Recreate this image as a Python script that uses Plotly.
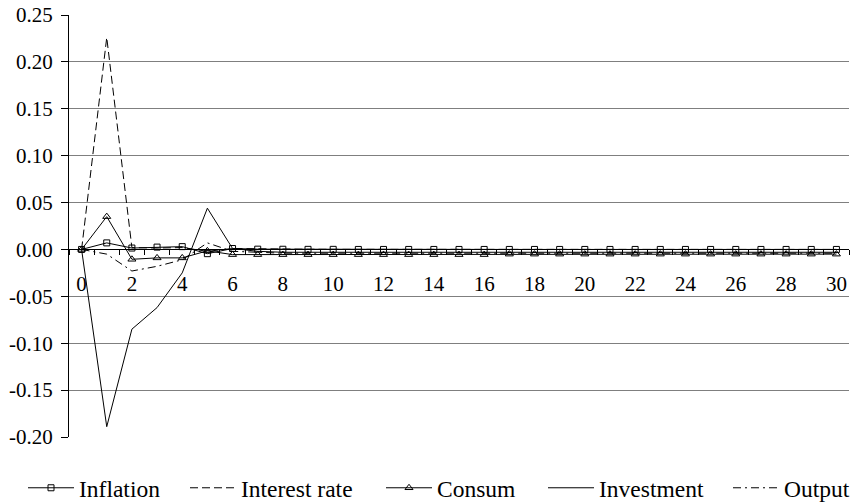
import plotly.graph_objects as go

# Periods after the shock
periods = list(range(31))

# Impulse responses read per period
inflation = [0.0, 0.007, 0.0015, 0.0025, 0.003, -0.0045, 0.001, 0.0003, 0.0002, 0.0001,
             0.0001, 0.0, 0.0, 0.0, 0.0, 0.0, 0.0, 0.0, 0.0, 0.0,
             0.0, 0.0, 0.0, 0.0, 0.0, 0.0, 0.0, 0.0, 0.0, 0.0, 0.0]
interest_rate = [0.0, 0.226, 0.002, 0.0015, 0.002, -0.002, 0.001, 0.0005, 0.0003, 0.0002,
                 0.0001, 0.0001, 0.0, 0.0, 0.0, 0.0, 0.0, 0.0, 0.0, 0.0,
                 0.0, 0.0, 0.0, 0.0, 0.0, 0.0, 0.0, 0.0, 0.0, 0.0, 0.0]
consum = [0.0, 0.035, -0.0105, -0.009, -0.009, -0.0015, -0.0055, -0.0055, -0.0055, -0.0055,
          -0.0055, -0.0055, -0.0055, -0.0055, -0.0055, -0.0055, -0.0055, -0.005, -0.005, -0.005,
          -0.005, -0.005, -0.005, -0.005, -0.005, -0.005, -0.005, -0.005, -0.005, -0.005, -0.005]
investment = [0.0, -0.189, -0.085, -0.062, -0.025, 0.044, 0.001, -0.002, -0.003, -0.003,
              -0.003, -0.003, -0.003, -0.003, -0.003, -0.003, -0.003, -0.003, -0.003, -0.003,
              -0.003, -0.003, -0.003, -0.003, -0.003, -0.003, -0.003, -0.003, -0.003, -0.003, -0.003]
output = [0.0, -0.005, -0.023, -0.018, -0.011, 0.007, -0.002, -0.003, -0.004, -0.004,
          -0.004, -0.004, -0.004, -0.004, -0.004, -0.004, -0.004, -0.004, -0.004, -0.004,
          -0.004, -0.004, -0.004, -0.004, -0.004, -0.004, -0.004, -0.004, -0.004, -0.004, -0.004]

# Axis ticks
x_tick_vals = list(range(0, 31, 2))
x_tick_text = [str(v) for v in x_tick_vals]
y_tick_vals = [-0.20, -0.15, -0.10, -0.05, 0.00, 0.05, 0.10, 0.15, 0.20, 0.25]
y_tick_text = ["-0.20", "-0.15", "-0.10", "-0.05", "0.00", "0.05", "0.10", "0.15", "0.20", "0.25"]

FONT = "Liberation Serif"
BLACK = "#000000"

fig = go.Figure()

fig.add_trace(go.Scatter(
    x=periods, y=inflation, name="Inflation", mode="lines+markers",
    line=dict(color=BLACK, width=1),
    marker=dict(symbol="square-open", size=6, color=BLACK, line=dict(width=1, color=BLACK)),
    legend="legend",
))
fig.add_trace(go.Scatter(
    x=periods, y=interest_rate, name="Interest rate", mode="lines",
    line=dict(color=BLACK, width=1, dash="8px,4px"),
    legend="legend2",
))
fig.add_trace(go.Scatter(
    x=periods, y=consum, name="Consum", mode="lines+markers",
    line=dict(color=BLACK, width=1),
    marker=dict(symbol="triangle-up-open", size=7, color=BLACK, line=dict(width=1, color=BLACK)),
    legend="legend3",
))
fig.add_trace(go.Scatter(
    x=periods, y=investment, name="Investment", mode="lines",
    line=dict(color=BLACK, width=1),
    legend="legend4",
))
fig.add_trace(go.Scatter(
    x=periods, y=output, name="Output", mode="lines",
    line=dict(color=BLACK, width=1, dash="8px,4px,2px,4px"),
    legend="legend5",
))

# Plot area spans 69..849 px horizontally, 15..437 px vertically
L, R, T, B = 69, 3, 15, 66
W, H = 852, 503
pw = W - L - R
ph = H - T - B


def legend_at(px_left):
    return dict(
        x=(px_left - L) / pw, xanchor="left",
        y=-(488 - (H - B)) / ph, yanchor="middle",
        orientation="h", bgcolor="rgba(0,0,0,0)", borderwidth=0,
        font=dict(family=FONT, size=23.5, color=BLACK),
        itemwidth=46,
    )


fig.update_layout(
    template="none",
    width=W, height=H,
    margin=dict(l=L, r=R, t=T, b=B, pad=0, autoexpand=False),
    paper_bgcolor="white", plot_bgcolor="white",
    font=dict(family=FONT, size=21, color=BLACK),
    showlegend=True,
    legend=legend_at(23),
    legend2=legend_at(185),
    legend3=legend_at(381),
    legend4=legend_at(543),
    legend5=legend_at(728),
)

fig.update_xaxes(
    range=[-0.5, 30.5],
    tickmode="array", tickvals=x_tick_vals, ticktext=x_tick_text,
    ticks="", showgrid=False, zeroline=False,
    showline=True, linecolor=BLACK, linewidth=1,
    anchor="free", position=0.20 / 0.45,
    ticklabelstandoff=15,
    minor=dict(ticks="outside", ticklen=5, tickcolor=BLACK, tickwidth=1,
               tickmode="array", tickvals=[p - 0.5 for p in periods] + [30.5],
               showgrid=False),
    tickfont=dict(family=FONT, size=21, color=BLACK),
)
fig.update_yaxes(
    range=[-0.20, 0.25],
    tickmode="array", tickvals=y_tick_vals, ticktext=y_tick_text,
    ticks="outside", ticklen=7, tickcolor=BLACK, tickwidth=1,
    ticklabelstandoff=4,
    showgrid=True, gridcolor="#7f7f7f", gridwidth=1, zeroline=False,
    showline=True, linecolor=BLACK, linewidth=1,
    tickfont=dict(family=FONT, size=21, color=BLACK),
)

fig.write_html("out.html")
